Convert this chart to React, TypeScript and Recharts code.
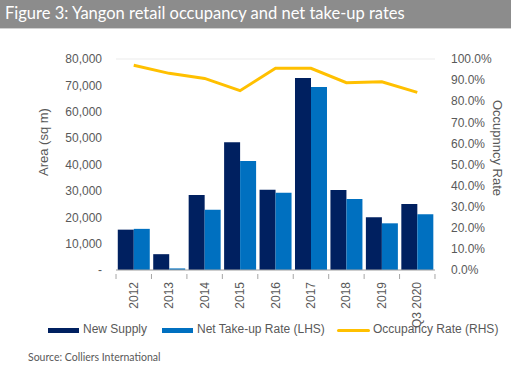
import React from "react";
import { ComposedChart, Bar, Line, XAxis, YAxis, CartesianGrid } from "recharts";

const categories = ["2012", "2013", "2014", "2015", "2016", "2017", "2018", "2019", "Q3 2020"];
const newSupply = [15300, 6000, 28400, 48400, 30400, 72800, 30300, 20000, 25000];
const netTakeUp = [15600, 600, 22800, 41300, 29300, 69400, 26900, 17700, 21100];
const occupancy = [0.97, 0.932, 0.908, 0.85, 0.956, 0.956, 0.888, 0.892, 0.842];
const leftTicks = [0, 10000, 20000, 30000, 40000, 50000, 60000, 70000, 80000];
const rightTicks = [0, 0.1, 0.2, 0.3, 0.4, 0.5, 0.6, 0.7, 0.8, 0.9, 1.0];
const seriesNames = ["New Supply", "Net Take-up Rate (LHS)", "Occupancy Rate (RHS)"];
const title = "Figure 3: Yangon retail occupancy and net take-up rates";
const source = "Source: Colliers International";

const data = categories.map((c, i) => ({
  cat: c,
  supply: newSupply[i],
  take: netTakeUp[i],
  occ: occupancy[i],
}));

const DARK = "#002060";
const BLUE = "#0070C0";
const GOLD = "#FFC000";
const TXT = "#595959";
const FONT = "'Liberation Sans', Arial, sans-serif";

const fmtLeft = (v: number) => (v === 0 ? "-" : v.toLocaleString("en-US"));
const fmtRight = (v: number) => (v * 100).toFixed(1) + "%";

const XTick = (props: any) => {
  const { x, y, payload, index, visibleTicksCount } = props;
  const half = 17.7;
  const label = String(payload.value);
  return (
    <g>
      <line x1={x - half} x2={x - half} y1={y - 4} y2={y + 1} stroke="#A6A6A6" />
      {index === (visibleTicksCount ?? categories.length) - 1 && (
        <line x1={x + half} x2={x + half} y1={y - 4} y2={y + 1} stroke="#A6A6A6" />
      )}
      <g transform={`translate(${x + 4}, ${y + 4}) rotate(-90)`}>
        <text x={0} y={0} textAnchor="end" fill={TXT} fontSize={12} fontFamily={FONT}>
          {label}
        </text>
      </g>
    </g>
  );
};

export default function App() {
  return (
    <div
      style={{
        position: "absolute",
        left: 0,
        top: 0,
        width: 511,
        height: 371,
        background: "#fff",
        overflow: "hidden",
        fontFamily: FONT,
      }}
    >
      <div
        style={{
          position: "absolute",
          left: 0,
          top: 0,
          width: 511,
          height: 28,
          background: "#8C8C8C",
          borderBottom: "1px solid #D0D0D0",
        }}
      >
        <div
          style={{
            position: "absolute",
            left: 5,
            top: 3,
            color: "#fff",
            fontFamily: "Lato, sans-serif",
            fontSize: 16.5,
            whiteSpace: "nowrap",
          }}
        >
          {title}
        </div>
      </div>

      <div style={{ position: "absolute", left: 0, top: 0 }}>
        <ComposedChart
          width={511}
          height={371}
          data={data}
          margin={{ top: 59, right: 16, left: 46, bottom: 51 }}
          barCategoryGap="5%"
          barGap={0}
        >
          <CartesianGrid vertical={false} stroke="#EBEBEB" />
          <XAxis
            dataKey="cat"
            interval={0}
            height={50}
            axisLine={{ stroke: "#A6A6A6" }}
            tickLine={false}
            tick={<XTick />}
          />
          <YAxis
            yAxisId="left"
            orientation="left"
            width={70}
            domain={[0, 80000]}
            ticks={leftTicks}
            tickFormatter={fmtLeft}
            axisLine={false}
            tickLine={false}
            tick={{ fill: TXT, fontSize: 12, fontFamily: FONT }}
            tickMargin={8}
          />
          <YAxis
            yAxisId="right"
            orientation="right"
            width={60}
            domain={[0, 1]}
            ticks={rightTicks}
            tickFormatter={fmtRight}
            axisLine={false}
            tickLine={false}
            tick={{ fill: TXT, fontSize: 12, fontFamily: FONT, textAnchor: "start" }}
            tickMargin={10}
          />
          <Bar yAxisId="left" dataKey="supply" name={seriesNames[0]} fill={DARK} isAnimationActive={false} />
          <Bar yAxisId="left" dataKey="take" name={seriesNames[1]} fill={BLUE} isAnimationActive={false} />
          <Line
            yAxisId="right"
            dataKey="occ"
            name={seriesNames[2]}
            stroke={GOLD}
            strokeWidth={3}
            dot={false}
            isAnimationActive={false}
          />
        </ComposedChart>
      </div>

      <div
        style={{
          position: "absolute",
          left: 43,
          top: 142,
          transform: "translate(-50%, -50%) rotate(-90deg)",
          color: TXT,
          fontSize: 13,
          whiteSpace: "nowrap",
        }}
      >
        Area (sq m)
      </div>
      <div
        style={{
          position: "absolute",
          left: 497,
          top: 148,
          transform: "translate(-50%, -50%) rotate(90deg)",
          color: TXT,
          fontSize: 13,
          whiteSpace: "nowrap",
        }}
      >
        Occupnncy Rate
      </div>

      <div style={{ position: "absolute", left: 48, top: 322, height: 16, color: TXT, fontSize: 12 }}>
        <div style={{ position: "absolute", left: 0, top: 6, width: 31, height: 5, background: DARK }} />
        <div style={{ position: "absolute", left: 35, top: 0, whiteSpace: "nowrap" }}>{seriesNames[0]}</div>
        <div style={{ position: "absolute", left: 114, top: 6, width: 31, height: 5, background: BLUE }} />
        <div style={{ position: "absolute", left: 149, top: 0, whiteSpace: "nowrap" }}>{seriesNames[1]}</div>
        <div style={{ position: "absolute", left: 289, top: 7, width: 33, height: 3, background: GOLD, borderRadius: 2 }} />
        <div style={{ position: "absolute", left: 325, top: 0, whiteSpace: "nowrap" }}>{seriesNames[2]}</div>
      </div>

      <div
        style={{
          position: "absolute",
          left: 28,
          top: 351,
          color: TXT,
          fontFamily: "Lato, sans-serif",
          fontSize: 10.5,
          whiteSpace: "nowrap",
        }}
      >
        {source}
      </div>
    </div>
  );
}
